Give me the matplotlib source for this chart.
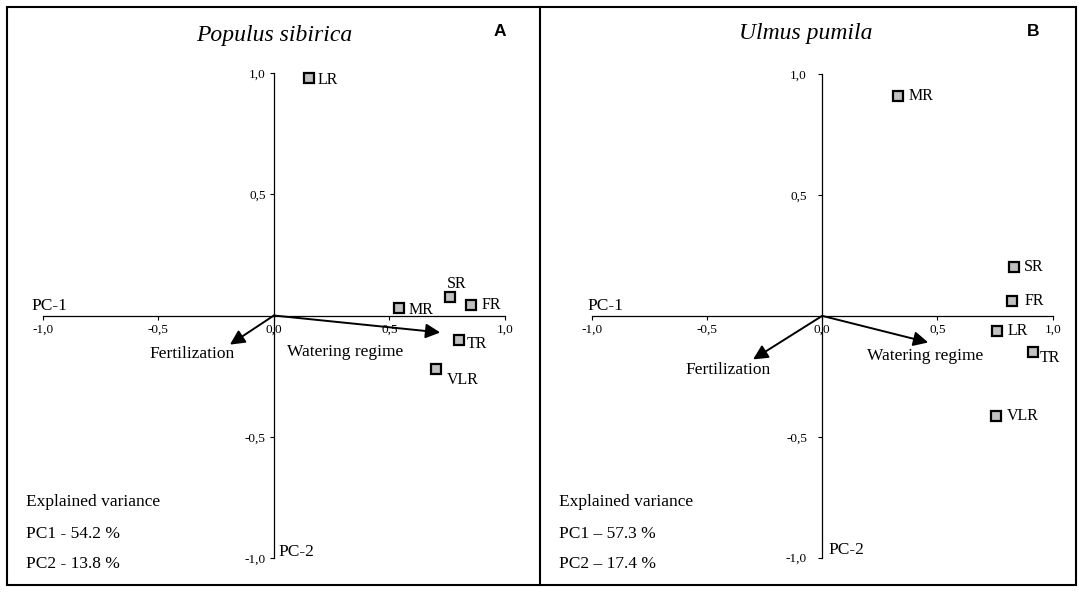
import matplotlib
matplotlib.use("Agg")
import matplotlib.pyplot as plt
from matplotlib.patches import Rectangle
from matplotlib.lines import Line2D

# ---------------- data ----------------
titles = ["Populus sibirica", "Ulmus pumila"]
panel_letters = ["A", "B"]

cats_A = ["LR", "SR", "MR", "FR", "TR", "VLR"]
pc1_A = [0.15, 0.76, 0.54, 0.855, 0.80, 0.70]
pc2_A = [0.98, 0.077, 0.032, 0.042, -0.10, -0.22]

cats_B = ["MR", "SR", "FR", "LR", "TR", "VLR"]
pc1_B = [0.33, 0.83, 0.825, 0.76, 0.915, 0.755]
pc2_B = [0.91, 0.20, 0.062, -0.062, -0.15, -0.415]

vector_names = ["Watering regime", "Fertilization"]
vec_A_x = [0.72, -0.19]
vec_A_y = [-0.07, -0.12]
vec_B_x = [0.46, -0.30]
vec_B_y = [-0.11, -0.18]

variance_A = ["Explained variance", "PC1 - 54.2 %", "PC2 - 13.8 %"]
variance_B = ["Explained variance", "PC1 \u2013 57.3 %", "PC2 \u2013 17.4 %"]

x_ticks = [-1.0, -0.5, 0.0, 0.5, 1.0]
x_tick_labels = ["-1,0", "-0,5", "0,0", "0,5", "1,0"]
y_ticks = [-1.0, -0.5, 0.5, 1.0]
y_tick_labels = ["-1,0", "-0,5", "0,5", "1,0"]

# ---------------- style / layout ----------------
W, H = 1084, 592
SERIF = ["Liberation Serif", "DejaVu Serif"]
SANS = ["Liberation Sans", "DejaVu Sans"]

# label offsets in pixels (dx, dy) relative to marker centre; dy positive = up
offs_A = {"LR": (9, -2, "left"), "SR": (7, 13, "center"), "MR": (10, -2, "left"),
          "FR": (10, 0, "left"), "TR": (8, -4, "left"), "VLR": (11, -11, "left")}
offs_B = {"MR": (10, 0, "left"), "SR": (10, 0, "left"), "FR": (12, 0, "left"),
          "LR": (10, 0, "left"), "TR": (7, -6, "left"), "VLR": (11, 0, "left")}

# vector label positions (data coords, centred)
veclab_A = [(0.307, -0.151), (-0.352, -0.16)]
veclab_B = [(0.446, -0.165), (-0.41, -0.224)]

fig = plt.figure(figsize=(W / 100, H / 100), dpi=100)


def px_axes(x_left, x_right, y_top, y_bottom):
    return fig.add_axes([x_left / W, 1 - y_bottom / H,
                         (x_right - x_left) / W, (y_bottom - y_top) / H])


ax_A = px_axes(42.7, 505.0, 73.0, 558.0)
ax_B = px_axes(591.7, 1052.7, 74.0, 557.7)

panels = [
    (ax_A, cats_A, pc1_A, pc2_A, vec_A_x, vec_A_y, offs_A, veclab_A, variance_A,
     (-1.05, -0.02), (0.022, -0.975), -1.073, 3),
    (ax_B, cats_B, pc1_B, pc2_B, vec_B_x, vec_B_y, offs_B, veclab_B, variance_B,
     (-1.017, -0.02), (0.025, -0.97), -1.143, 8),
]

for i, (ax, cats, xs, ys, vx, vy, offs, vlab, var, pc1pos, pc2pos, varx, ypad) in enumerate(panels):
    ax.set_xlim(-1, 1)
    ax.set_ylim(-1, 1)
    ax.set_facecolor("none")
    for s in ["top", "right"]:
        ax.spines[s].set_visible(False)
    ax.spines["left"].set_position(("data", 0))
    ax.spines["bottom"].set_position(("data", 0))
    for s in ["left", "bottom"]:
        ax.spines[s].set_linewidth(0.9)
        ax.spines[s].set_color("black")
    ax.set_xticks(x_ticks)
    ax.set_xticklabels(x_tick_labels, fontfamily=SERIF, fontsize=9.5)
    ax.set_yticks(y_ticks)
    ax.set_yticklabels(y_tick_labels, fontfamily=SERIF, fontsize=9.5)
    ax.tick_params(axis="x", direction="out", length=3, width=0.8, pad=3)
    ax.tick_params(axis="y", direction="out", length=3, width=0.8, pad=ypad)

    # vectors
    for j, name in enumerate(vector_names):
        ax.annotate("", xy=(vx[j], vy[j]), xytext=(0, 0),
                    arrowprops=dict(arrowstyle="-|>", lw=1.4, color="black",
                                    mutation_scale=22, shrinkA=0, shrinkB=0),
                    annotation_clip=False)
        ax.text(vlab[j][0], vlab[j][1], name, ha="center", va="center",
                fontfamily=SERIF, fontsize=12.5)

    # points
    ax.plot(xs, ys, linestyle="none", marker="s", markersize=7.4,
            markerfacecolor="#c0c0c0", markeredgecolor="black",
            markeredgewidth=1.6, clip_on=False, zorder=5)
    for c, x, y in zip(cats, xs, ys):
        dx, dy, ha = offs[c]
        ax.annotate(c, xy=(x, y), xytext=(dx, dy), textcoords="offset pixels",
                    ha=ha, va="center", fontfamily=SERIF, fontsize=11.5,
                    annotation_clip=False)

    # axis names
    ax.text(pc1pos[0], pc1pos[1] + 0.06, "PC-1", ha="left", va="center",
            fontfamily=SERIF, fontsize=12.5)
    ax.text(pc2pos[0], pc2pos[1], "PC-2", ha="left", va="center",
            fontfamily=SERIF, fontsize=12.5)

    # explained variance
    for k, (t, yy) in enumerate(zip(var, [-0.77, -0.90, -1.025])):
        ax.text(varx, yy, t, ha="left", va="center", fontfamily=SERIF,
                fontsize=12.5, clip_on=False)

# titles and letters (figure pixel coords)
fig.text(274 / W, 1 - 36 / H, titles[0], ha="center", va="center",
         fontfamily=SERIF, fontstyle="italic", fontsize=17)
fig.text(806 / W, 1 - 34 / H, titles[1], ha="center", va="center",
         fontfamily=SERIF, fontstyle="italic", fontsize=17)
fig.text(500 / W, 1 - 32 / H, panel_letters[0], ha="center", va="center",
         fontfamily=SANS, fontweight="bold", fontsize=12.5)
fig.text(1033 / W, 1 - 31 / H, panel_letters[1], ha="center", va="center",
         fontfamily=SANS, fontweight="bold", fontsize=12.5)

# frame boxes
fig.patches.append(Rectangle((7 / W, 1 - 585 / H), (1076 - 7) / W, (585 - 7) / H,
                             transform=fig.transFigure, fill=False,
                             edgecolor="black", linewidth=1.5))
fig.lines.append(Line2D([540 / W, 540 / W], [1 - 585 / H, 1 - 7 / H],
                        transform=fig.transFigure, color="black", linewidth=1.5))

fig.savefig("out.png", dpi=100)
